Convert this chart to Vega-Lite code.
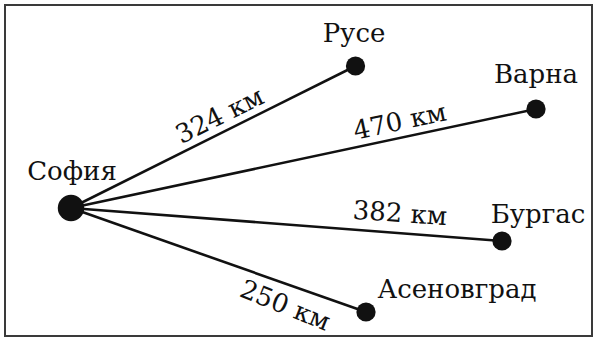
{
  "$schema": "https://vega.github.io/schema/vega-lite/v6.json",
  "autosize": {"type": "fit", "contains": "padding"},
  "width": 597,
  "height": 341,
  "padding": 5,
  "background": "white",
  "config": {
    "view": {"stroke": "#3a3a3a", "strokeWidth": 2}
  },
  "datasets": {
    "cities": [
      {"city": "София", "kind": "capital", "x": 66, "y": 203, "lx": 67, "ly": 175},
      {"city": "Русе", "kind": "city", "x": 350.5, "y": 61, "lx": 349, "ly": 37},
      {"city": "Варна", "kind": "city", "x": 531, "y": 104, "lx": 531, "ly": 78},
      {"city": "Бургас", "kind": "city", "x": 497, "y": 236, "lx": 533, "ly": 218},
      {"city": "Асеновград", "kind": "city", "x": 361, "y": 307, "lx": 452, "ly": 293}
    ],
    "routes": [
      {"from": "София", "to": "Русе", "label": "324 км", "lx": 215, "ly": 111, "angle": -26.5},
      {"from": "София", "to": "Варна", "label": "470 км", "lx": 395, "ly": 117, "angle": -12},
      {"from": "София", "to": "Бургас", "label": "382 км", "lx": 395, "ly": 209, "angle": 4},
      {"from": "София", "to": "Асеновград", "label": "250 км", "lx": 280, "ly": 301, "angle": 22}
    ]
  },
  "layer": [
    {
      "data": {"name": "routes"},
      "transform": [
        {"lookup": "from", "from": {"data": {"name": "cities"}, "key": "city", "fields": ["x", "y"]}, "as": ["fx", "fy"]},
        {"lookup": "to", "from": {"data": {"name": "cities"}, "key": "city", "fields": ["x", "y"]}, "as": ["tx", "ty"]}
      ],
      "mark": {"type": "rule", "stroke": "#111", "strokeWidth": 2.6},
      "encoding": {
        "x": {"field": "fx", "type": "quantitative", "scale": {"domain": [0, 587], "nice": false, "zero": false}, "axis": null},
        "y": {"field": "fy", "type": "quantitative", "scale": {"domain": [0, 331], "nice": false, "zero": false, "reverse": true}, "axis": null},
        "x2": {"field": "tx"},
        "y2": {"field": "ty"}
      }
    },
    {
      "data": {"name": "cities"},
      "mark": {"type": "circle", "opacity": 1, "color": "#111"},
      "encoding": {
        "x": {"field": "x", "type": "quantitative"},
        "y": {"field": "y", "type": "quantitative"},
        "size": {"field": "kind", "type": "nominal", "scale": {"domain": ["capital", "city"], "range": [700, 370]}, "legend": null}
      }
    },
    {
      "data": {"name": "cities"},
      "mark": {"type": "text", "align": "center", "baseline": "alphabetic", "font": "DejaVu Serif", "fontSize": 26, "color": "#111"},
      "encoding": {
        "x": {"field": "lx", "type": "quantitative"},
        "y": {"field": "ly", "type": "quantitative"},
        "text": {"field": "city"}
      }
    },
    {
      "data": {"name": "routes"},
      "mark": {"type": "text", "align": "center", "baseline": "middle", "font": "DejaVu Serif", "fontSize": 26, "color": "#111"},
      "encoding": {
        "x": {"field": "lx", "type": "quantitative"},
        "y": {"field": "ly", "type": "quantitative"},
        "text": {"field": "label"},
        "angle": {"field": "angle", "type": "quantitative", "scale": null}
      }
    }
  ]
}
